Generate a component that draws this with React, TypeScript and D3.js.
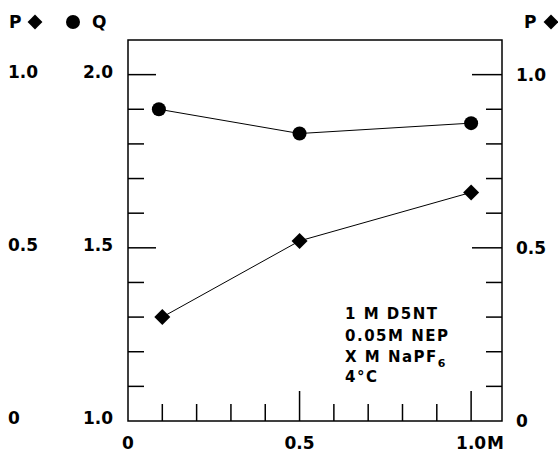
import React, { useEffect, useRef } from "react";
import * as d3 from "d3";

// NaPF6 concentration (M)
const qConc = [0.09, 0.5, 1.0];
const qValues = [1.9, 1.83, 1.86];
const pConc = [0.1, 0.5, 1.0];
const pValues = [0.3, 0.52, 0.66];

const qTickLabels = ["1.0", "1.5", "2.0"];
const pTickLabels = ["0", "0.5", "1.0"];
const xTickLabels = ["0", "0.5", "1.0"];
const notes = ["1 M D5NT", "0.05M NEP", "X M NaPF", "4°C"];

const width = 558;
const height = 454;

const App = () => {
    const ref = useRef<SVGSVGElement | null>(null);

    useEffect(() => {
        const svg = d3.select(ref.current);
        svg.selectAll("*").remove();

        const left = 128, right = 502, top = 40, bottom = 421;
        const font = "'DejaVu Sans', sans-serif";

        const x = d3.scaleLinear().domain([0, 1.09]).range([left, right]);
        const yQ = d3.scaleLinear().domain([1.0, 2.1]).range([bottom, top]);
        const yP = d3.scaleLinear().domain([0, 1.1]).range([bottom, top]);

        const g = svg.append("g");

        // frame
        g.append("rect")
            .attr("x", left).attr("y", top)
            .attr("width", right - left).attr("height", bottom - top)
            .attr("fill", "none").attr("stroke", "#000").attr("stroke-width", 1.5);

        const isMajor = (v: number) => Math.abs(v * 2 - Math.round(v * 2)) < 1e-6;

        // left ticks (Q)
        d3.range(11, 21).map(i => i / 10).forEach(v => {
            const len = isMajor(v) ? 28 : 16;
            g.append("line")
                .attr("x1", left).attr("x2", left + len)
                .attr("y1", yQ(v)).attr("y2", yQ(v))
                .attr("stroke", "#000").attr("stroke-width", 1.5);
        });

        // right ticks (P)
        d3.range(1, 11).map(i => i / 10).forEach(v => {
            const len = isMajor(v) ? 30 : 16;
            g.append("line")
                .attr("x1", right - len).attr("x2", right)
                .attr("y1", yP(v)).attr("y2", yP(v))
                .attr("stroke", "#000").attr("stroke-width", 1.5);
        });

        // bottom ticks
        d3.range(1, 11).map(i => i / 10).forEach(v => {
            const len = isMajor(v) ? 30 : 17;
            g.append("line")
                .attr("x1", x(v)).attr("x2", x(v))
                .attr("y1", bottom).attr("y2", bottom - len)
                .attr("stroke", "#000").attr("stroke-width", 1.5);
        });

        const label = (tx: number, ty: number, s: string, anchor = "start", size = 17) =>
            g.append("text")
                .attr("x", tx).attr("y", ty)
                .attr("text-anchor", anchor)
                .attr("font-family", font)
                .attr("font-weight", "bold")
                .attr("font-size", size)
                .attr("fill", "#000")
                .text(s);

        // axis labels
        qTickLabels.forEach(s => label(113, yQ(+s) + 3, s, "end"));
        pTickLabels.forEach(s => label(8, yP(+s) + 3, s, "start"));
        pTickLabels.forEach(s => label(516, yP(+s) + 6, s, "start"));
        xTickLabels.forEach(s => label(x(+s), 449, s, "middle"));
        label(x(1.0) + 16, 449, "M", "start");

        // series lines
        const line = d3.line<[number, number]>();
        g.append("path")
            .attr("d", line(qConc.map((c, i) => [x(c), yQ(qValues[i])])))
            .attr("fill", "none").attr("stroke", "#000").attr("stroke-width", 1);
        g.append("path")
            .attr("d", line(pConc.map((c, i) => [x(c), yP(pValues[i])])))
            .attr("fill", "none").attr("stroke", "#000").attr("stroke-width", 1);

        const diamond = d3.symbol().type(d3.symbolSquare).size(128);

        qConc.forEach((c, i) => {
            g.append("circle")
                .attr("cx", x(c)).attr("cy", yQ(qValues[i])).attr("r", 7)
                .attr("fill", "#000");
        });
        pConc.forEach((c, i) => {
            g.append("path")
                .attr("d", diamond())
                .attr("transform", `translate(${x(c)},${yP(pValues[i])}) rotate(45)`)
                .attr("fill", "#000");
        });

        // legend marks at the top
        label(9, 28, "P");
        g.append("path").attr("d", d3.symbol().type(d3.symbolSquare).size(110)())
            .attr("transform", "translate(35,22) rotate(45)").attr("fill", "#000");
        g.append("circle").attr("cx", 73).attr("cy", 22).attr("r", 7).attr("fill", "#000");
        label(92, 28, "Q");
        label(524, 28, "P");
        g.append("path").attr("d", d3.symbol().type(d3.symbolSquare).size(110)())
            .attr("transform", "translate(551,22) rotate(45)").attr("fill", "#000");

        // conditions note
        const noteY = [319, 341, 362, 382];
        notes.forEach((s, i) => {
            const t = g.append("text")
                .attr("x", 345).attr("y", noteY[i])
                .attr("font-family", font)
                .attr("font-weight", "bold")
                .attr("font-size", 15)
                .attr("letter-spacing", 1.5)
                .attr("fill", "#000")
                .text(s);
            if (s.endsWith("NaPF")) {
                t.append("tspan").attr("dy", 5).attr("font-size", 11).text("6");
            }
        });
    }, []);

    return (
        <svg
            ref={ref}
            width={width}
            height={height}
            style={{ position: "absolute", left: 0, top: 0, background: "#fff" }}
        />
    );
};

export default App;
